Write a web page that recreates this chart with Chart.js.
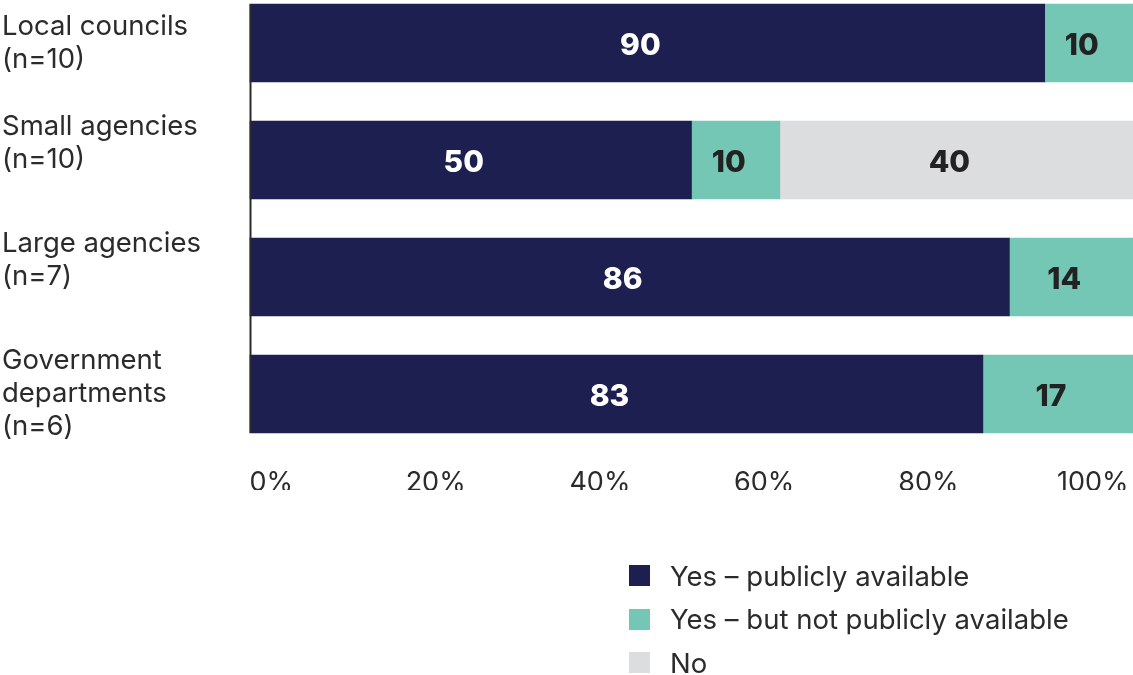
<!DOCTYPE html>
<html>
<head>
<meta charset="utf-8">
<script src="https://cdn.jsdelivr.net/npm/chart.js@4.4.1/dist/chart.umd.min.js"></script>
<style>
  html, body { margin: 0; padding: 0; background: #ffffff; }
  #wrap { position: relative; width: 1133px; height: 675px; overflow: hidden; }
  #legend {
    position: absolute; left: 629px; top: 554px;
    font-family: Inter, "Noto Sans", sans-serif; font-size: 27.5px; color: #2b2b2b;
  }
  #legend .item { display: flex; align-items: center; height: 43.5px; white-space: nowrap; }
  #legend .sw { width: 21px; height: 21px; margin-right: 20px; flex: none; }
</style>
</head>
<body>
<div id="wrap">
  <canvas id="chart" width="1133" height="675"></canvas>
  <div id="legend"></div>
</div>
<script>
// Categories (each entry is a multi-line axis label)
const categories = [
  ['Local councils', '(n=10)'],
  ['Small agencies', '(n=10)'],
  ['Large agencies', '(n=7)'],
  ['Government', 'departments', '(n=6)']
];

// Series names and values (percent of respondents)
const seriesNames = ['Yes – publicly available', 'Yes – but not publicly available', 'No'];
const publiclyAvailable = [90, 50, 86, 83];
const notPubliclyAvailable = [10, 10, 14, 17];
const notAvailable = [0, 40, 0, 0];

// Percentage axis tick labels
const tickValues = [0, 20, 40, 60, 80, 100];

const seriesColors = ['#1c1f4f', '#74c7b4', '#dcdddf'];
const labelColors = ['#ffffff', '#222222', '#222222'];
const FONT = 'Inter, "Noto Sans", sans-serif';
const TEXT = '#2b2b2b';

// Two-line labels that sit a half line higher than their bar
const raisedLabels = [1, 2];

// Segment value labels drawn inside each bar piece
const segmentLabels = {
  id: 'segmentLabels',
  afterDatasetsDraw(chart) {
    const ctx = chart.ctx;
    ctx.save();
    ctx.font = '800 30px ' + FONT;
    ctx.textAlign = 'center';
    ctx.textBaseline = 'middle';
    chart.data.datasets.forEach((ds, di) => {
      const meta = chart.getDatasetMeta(di);
      if (meta.hidden) return;
      meta.data.forEach((bar, i) => {
        const v = ds.data[i];
        if (!v) return;
        const p = bar.getProps(['x', 'y', 'base'], true);
        ctx.fillStyle = labelColors[di];
        ctx.fillText(String(v), (p.x + p.base) / 2 - 7, p.y + 3);
      });
    });
    ctx.restore();
  }
};

// Vertical baseline along the start of the bars
const baseLine = {
  id: 'baseLine',
  afterDatasetsDraw(chart) {
    const meta = chart.getDatasetMeta(0);
    const first = meta.data[0].getProps(['y', 'height'], true);
    const last = meta.data[meta.data.length - 1].getProps(['y', 'height'], true);
    const x = chart.scales.x.getPixelForValue(0);
    const ctx = chart.ctx;
    ctx.save();
    ctx.strokeStyle = TEXT;
    ctx.lineWidth = 2;
    ctx.beginPath();
    ctx.moveTo(x + 0.5, first.y - first.height / 2);
    ctx.lineTo(x + 0.5, last.y + last.height / 2);
    ctx.stroke();
    ctx.restore();
  }
};

const seriesData = [publiclyAvailable, notPubliclyAvailable, notAvailable];

const chart = new Chart(document.getElementById('chart'), {
  type: 'bar',
  data: {
    labels: categories,
    datasets: seriesNames.map((name, k) => ({
      label: name,
      data: seriesData[k],
      backgroundColor: seriesColors[k],
      borderWidth: 0,
      barThickness: 78,
      clip: false,
      xAxisID: 'x',
      yAxisID: 'y'
    }))
  },
  options: {
    indexAxis: 'y',
    responsive: false,
    devicePixelRatio: 1,
    animation: false,
    layout: { padding: { left: 2, right: -3, top: 43, bottom: 185 } },
    plugins: {
      legend: { display: false },
      tooltip: { enabled: false }
    },
    scales: {
      x: {
        stacked: true,
        display: false,
        min: 0,
        max: 100
      },
      xt: {
        type: 'linear',
        position: 'bottom',
        min: -2.6,
        max: 104.9,
        grid: { display: false },
        border: { display: false },
        afterBuildTicks(scale) {
          scale.ticks = tickValues.map(v => ({ value: v }));
        },
        afterFit(scale) {
          scale.height = 96;
          scale.paddingLeft = 0;
          scale.paddingRight = 0;
        },
        ticks: {
          padding: 65,
          autoSkip: false,
          maxRotation: 0,
          color: TEXT,
          font: { family: FONT, size: 27 },
          callback: v => v + '%'
        }
      },
      y: {
        type: 'category',
        stacked: true,
        offset: false,
        grid: { display: false },
        border: { display: false },
        afterFit(scale) {
          scale.width = 248;
          scale.paddingTop = 0;
          scale.paddingBottom = 0;
        },
        ticks: {
          crossAlign: 'far',
          padding: 0,
          autoSkip: false,
          color: TEXT,
          font: { family: FONT, size: 27.5, lineHeight: '33px' },
          callback(value, index) {
            const lines = this.getLabelForValue(value).slice();
            if (raisedLabels.includes(index)) lines.push('');
            return lines;
          }
        }
      }
    }
  },
  plugins: [segmentLabels, baseLine]
});

// Legend list built from the chart's datasets
const legendEl = document.getElementById('legend');
chart.data.datasets.forEach(ds => {
  const item = document.createElement('div');
  item.className = 'item';
  const sw = document.createElement('span');
  sw.className = 'sw';
  sw.style.background = ds.backgroundColor;
  const txt = document.createElement('span');
  txt.textContent = ds.label;
  item.appendChild(sw);
  item.appendChild(txt);
  legendEl.appendChild(item);
});
</script>
</body>
</html>
